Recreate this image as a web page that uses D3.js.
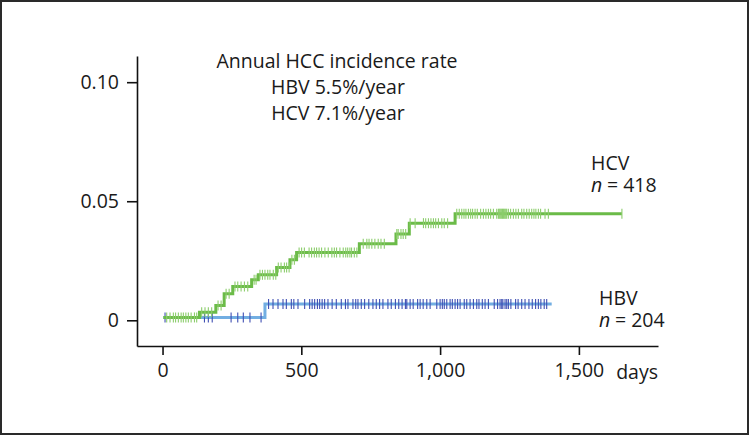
<!DOCTYPE html>
<html><head><meta charset="utf-8">
<script src="https://cdn.jsdelivr.net/npm/d3@7"></script>
<style>body{margin:0;background:#fff}svg{display:block}text{font-family:"Open Sans",sans-serif;fill:#1a1a1a}</style>
</head><body>
<svg id="c" width="750" height="436"></svg>
<script>
// ---- data ----
const yTicks = [0, 0.05, 0.10];
const yTickLabels = ["0", "0.05", "0.10"];
const xTicks = [0, 500, 1000, 1500];
const xTickLabels = ["0", "500", "1,000", "1,500"];
// HCV cumulative incidence steps: [day, value]
const hcvSteps = [[3,0.0012],[133,0.0034],[192,0.0062],[222,0.0111],[253,0.0142],[321,0.0170],[345,0.0191],[411,0.0222],[459,0.0254],[483,0.0285],[709,0.0321],[841,0.0362],[889,0.0408],[1054,0.0447]];
const hcvEnd = 1655;
const hcvCensor = [15,27,39,47,57,67,75,84,93,103,115,123,141,153,165,177,200,211,229,240,261,271,283,295,307,330,337,351,360,369,379,387,399,408,417,427,439,447,456,466,475,492,501,511,528,537,547,555,564,573,585,597,610,619,627,639,651,660,667,675,681,691,700,723,736,744,754,765,777,787,799,844,849,859,867,876,892,910,940,948,958,967,976,984,994,1006,1015,1027,1060,1069,1078,1086,1093,1102,1110,1117,1126,1134,1146,1156,1165,1174,1182,1192,1204,1210,1213,1216,1219,1222,1225,1228,1231,1234,1237,1240,1246,1254,1264,1273,1282,1294,1302,1312,1321,1330,1338,1345,1354,1362,1378,1390,1655];
// HBV
const hbvSteps = [[3,0.0012],[369,0.0068]];
const hbvEnd = 1402;
const hbvCensor = [9,151,165,179,247,271,291,315,355,382,398,416,434,446,464,473,488,512,530,539,548,558,566,575,584,596,611,626,644,659,668,686,696,704,716,728,743,758,770,782,794,812,824,839,851,863,875,880,892,903,919,928,939,952,964,988,1000,1008,1015,1024,1036,1044,1054,1063,1072,1087,1096,1108,1120,1132,1140,1152,1162,1174,1195,1207,1216,1222,1226,1234,1240,1246,1255,1272,1281,1294,1306,1320,1332,1344,1354,1363,1375,1384];

const FS = "19.5px";
const svg = d3.select("#c");
svg.append("rect").attr("x",1).attr("y",1).attr("width",747).attr("height",433)
  .attr("fill","none").attr("stroke","#2a2a2a").attr("stroke-width",2);

const x = d3.scaleLinear().domain([-92, 1785]).range([137, 658]);
const y = d3.scaleLinear().domain([-0.0108, 0.111]).range([346, 56]);

// axes
const gy = svg.append("g").attr("transform","translate(137,0)")
  .call(d3.axisLeft(y).tickValues(yTicks).tickFormat((d,i)=>yTickLabels[i]).tickSize(10).tickSizeOuter(0).tickPadding(8));
const gx = svg.append("g").attr("transform","translate(0,346)")
  .call(d3.axisBottom(x).tickValues(xTicks).tickFormat((d,i)=>xTickLabels[i]).tickSize(9).tickSizeOuter(0).tickPadding(8));
[gx,gy].forEach(g=>{
  g.select(".domain").attr("stroke","#111").attr("stroke-width",1.6);
  g.selectAll(".tick line").attr("stroke","#111").attr("stroke-width",1.6);
  g.selectAll(".tick text").style("font-family","'Open Sans',sans-serif").style("font-size",FS).attr("fill","#1a1a1a");
});
gx.selectAll(".tick text").attr("dy","0.72em");

function stepVal(steps, t){ let v = steps[0][1]; for (const s of steps){ if (s[0] <= t) v = s[1]; } return v; }
function stepPath(steps, end){
  const pts = [];
  steps.forEach((s,i)=>{ if(i>0) pts.push([s[0], steps[i-1][1]]); pts.push(s); });
  pts.push([end, steps[steps.length-1][1]]);
  return d3.line().x(d=>x(d[0])).y(d=>y(d[1]))(pts);
}
function drawSeries(steps, end, censor, lineColor, tickColor, h){
  svg.append("path").attr("d", stepPath(steps,end)).attr("fill","none")
    .attr("stroke",lineColor).attr("stroke-width",3).attr("stroke-linejoin","miter");
  svg.append("g").selectAll("line").data(censor).join("line")
    .attr("x1",d=>x(d)).attr("x2",d=>x(d))
    .attr("y1",d=>y(stepVal(steps,d))-h).attr("y2",d=>y(stepVal(steps,d))+h)
    .attr("stroke",tickColor).attr("stroke-width",1.1);
}
drawSeries(hbvSteps, hbvEnd, hbvCensor, "#72aee2", "#3f4fb3", 5);
drawSeries(hcvSteps, hcvEnd, hcvCensor, "#6bbb48", "#8ccd6c", 5);

// annotations
const t = svg.append("g").style("font-size",FS);
t.append("text").attr("x",337).attr("y",68).attr("text-anchor","middle").text("Annual HCC incidence rate");
t.append("text").attr("x",338).attr("y",94).attr("text-anchor","middle").text("HBV 5.5%/year");
t.append("text").attr("x",338).attr("y",120).attr("text-anchor","middle").text("HCV 7.1%/year");
t.append("text").attr("x",591).attr("y",170).text("HCV");
t.append("text").attr("x",591).attr("y",192).style("font-style","italic").text("n");
t.append("text").attr("x",607).attr("y",192).text("= 418");
t.append("text").attr("x",599).attr("y",305).text("HBV");
t.append("text").attr("x",599).attr("y",327).style("font-style","italic").text("n");
t.append("text").attr("x",615).attr("y",327).text("= 204");
t.append("text").attr("x",658).attr("y",379).attr("text-anchor","end").text("days");
</script>
</body></html>
